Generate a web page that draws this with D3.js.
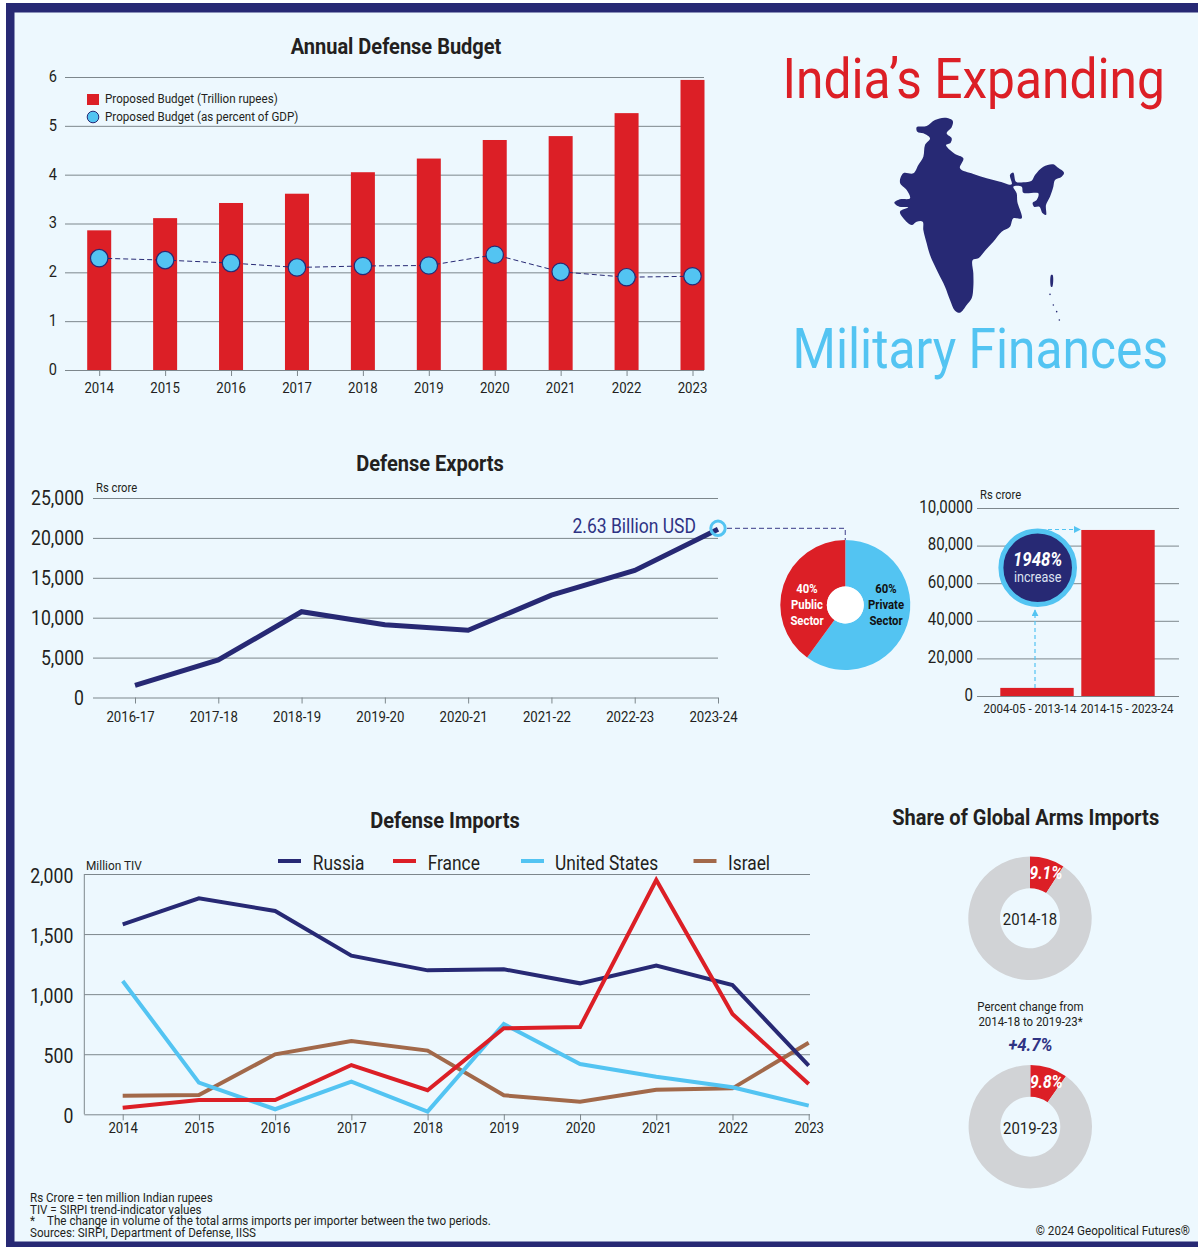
<!DOCTYPE html>
<html>
<head>
<meta charset="utf-8">
<title>India's Expanding Military Finances</title>
<script src="https://d3js.org/d3.v7.min.js"></script>
<style>
    html, body { margin: 0; padding: 0; background: #fff; }
    svg { display: block; }
    text { font-family: Roboto, "Noto Sans", sans-serif; fill: #231f20; }
</style>
</head>
<body>
<svg id="chart" width="1198" height="1247"></svg>
<script>
// Annual Defense Budget
const budgetYears = ["2014", "2015", "2016", "2017", "2018", "2019", "2020", "2021", "2022", "2023"];
const budgetTrillion = [2.86, 3.11, 3.42, 3.61, 4.05, 4.33, 4.71, 4.79, 5.26, 5.94];
const budgetGdp = [2.29, 2.25, 2.19, 2.10, 2.13, 2.14, 2.36, 2.01, 1.90, 1.92];
const budgetTicks = [0, 1, 2, 3, 4, 5, 6];

// Defense Exports
const exportYears = ["2016-17", "2017-18", "2018-19", "2019-20", "2020-21", "2021-22", "2022-23", "2023-24"];
const exportValues = [1520, 4700, 10750, 9120, 8430, 12820, 15920, 21080];
const exportTicks = [0, 5000, 10000, 15000, 20000, 25000];

// Public / private split
const sectorNames = ["Private", "Public"];
const sectorShares = [60, 40];

// Ten year export totals
const decadeLabels = ["2004-05 - 2013-14", "2014-15 - 2023-24"];
const decadeValues = [4312, 88319];
const decadeTicks = [0, 20000, 40000, 60000, 80000, 100000];
const decadeTickLabels = ["0", "20,000", "40,000", "60,000", "80,000", "10,0000"];

// Defense Imports
const importYears = ["2014", "2015", "2016", "2017", "2018", "2019", "2020", "2021", "2022", "2023"];
const russiaImports = [1581, 1797, 1692, 1320, 1198, 1207, 1090, 1237, 1076, 405];
const franceImports = [55, 119, 119, 410, 200, 716, 727, 1950, 835, 252];
const usImports = [1110, 264, 42, 272, 22, 752, 419, 313, 225, 72];
const israelImports = [155, 161, 499, 610, 530, 158, 105, 205, 216, 596];
const importTicks = [0, 500, 1000, 1500, 2000];

// Share of global arms imports
const sharePeriods = ["2014-18", "2019-23"];
const shareValues = [9.1, 9.8];

// India silhouette
const indiaOutline = [[470,292],[500,288],[525,270],[555,263],[578,272],[575,292],[560,310],[575,325],[572,338],[558,345],[570,360],[585,372],[610,385],[600,415],[640,432],[680,445],[720,455],[755,463],[750,435],[760,428],[768,455],[790,457],[815,452],[825,435],[850,410],[880,403],[892,412],[912,428],[905,440],[885,450],[880,470],[870,500],[858,525],[858,555],[848,550],[838,530],[822,530],[818,518],[830,510],[835,490],[790,488],[785,470],[760,470],[770,490],[772,515],[785,565],[760,565],[750,590],[725,605],[700,635],[675,662],[655,685],[638,690],[640,730],[640,770],[635,805],[620,825],[600,848],[585,842],[570,810],[555,770],[535,730],[510,675],[500,640],[490,600],[488,575],[470,575],[455,585],[430,565],[420,545],[445,532],[418,530],[403,518],[420,508],[450,505],[440,480],[420,458],[430,430],[460,430],[475,405],[490,380],[495,345],[510,325],[490,310],[472,305]];
const islandOutline = [[873,735],[878,735],[877,770],[873,770]];
const islandDots = [[870,793],[880,825],[890,845],[898,870]];

const navy = "#272974", red = "#dc1f26", sky = "#53c4f2", brown = "#a2694a", grey = "#d1d3d6";
const gridColor = "#7d878c", bg = "#edf8fe";
const narrow = 0.9;

const svg = d3.select("#chart");

// frame runs off the right edge of the picture
svg.append("rect").attr("x", 0).attr("y", 0).attr("width", 1198).attr("height", 1247).attr("fill", "#fff");
svg.append("rect").attr("x", 6).attr("y", 3).attr("width", 1192).attr("height", 1244).attr("fill", navy);
svg.append("rect").attr("x", 14.5).attr("y", 12.5).attr("width", 1184).attr("height", 1229).attr("fill", bg);

// Roboto squeezed sideways stands in for the condensed face
function label(x, y, str, opts = {}) {
    const t = svg.append("text")
        .attr("transform", `translate(${x},${y}) scale(${opts.sx || narrow},1)`)
        .attr("text-anchor", opts.anchor || "middle")
        .attr("dominant-baseline", opts.baseline || "central")
        .attr("font-size", opts.size || 13)
        .attr("font-weight", opts.weight || 400)
        .style("fill", opts.fill || "#231f20")
        .text(str);
    if (opts.italic) t.attr("font-style", "italic");
    return t;
}

// shift moves the tick text off where d3 put it, the originals sit a touch off the ticks
function squeezeTicks(axisG, size, sx, shiftX = 0, shiftY = 0) {
    axisG.selectAll("text").each(function () {
        const t = d3.select(this);
        const x = +t.attr("x") || 0, y = +t.attr("y") || 0;
        t.attr("x", 0).attr("y", 0)
            .attr("transform", `translate(${x + shiftX},${y + shiftY}) scale(${sx || narrow},1)`)
            .attr("font-size", size);
    });
    axisG.selectAll("text").style("font-family", "Roboto").style("fill", "#231f20");
}

function gridAxis(scale, ticks, left, right, fmt, size, gap, shiftY = 0) {
    const g = svg.append("g")
        .attr("transform", `translate(${left},0)`)
        .call(d3.axisLeft(scale).tickValues(ticks).tickSize(-(right - left)).tickPadding(gap).tickFormat(fmt));
    g.select(".domain").remove();
    g.selectAll("line").attr("stroke", gridColor).attr("stroke-width", 1);
    squeezeTicks(g, size, 0.86, 0, shiftY);
    return g;
}

function bottomAxis(scale, y, size, tick, shiftX = 0, shiftY = 0) {
    const g = svg.append("g")
        .attr("transform", `translate(0,${y})`)
        .call(d3.axisBottom(scale).tickSize(tick).tickPadding(5));
    g.select(".domain").remove();
    g.selectAll("line").attr("stroke", gridColor).attr("stroke-width", 1);
    squeezeTicks(g, size, 0.88, shiftX, shiftY);
    return g;
}

/* ---------- Annual Defense Budget ---------- */
const xBudget = d3.scalePoint().domain(budgetYears).range([99.2, 692.5]);
const yBudget = d3.scaleLinear().domain([0, 6]).range([370, 77]);
const budgetBar = 24;

label(396, 46, "Annual Defense Budget", { size: 22, weight: 700, sx: 0.91 });
gridAxis(yBudget, budgetTicks, 65, 704, d3.format("d"), 17, 8, -1);
bottomAxis(xBudget, 370, 15, 6, -0.5, 1.5);

svg.append("g").selectAll("rect")
    .data(budgetYears)
    .enter().append("rect")
    .attr("x", d => xBudget(d) - budgetBar / 2)
    .attr("y", (d, i) => yBudget(budgetTrillion[i]))
    .attr("width", budgetBar)
    .attr("height", (d, i) => yBudget(0) - yBudget(budgetTrillion[i]))
    .attr("fill", red);

svg.append("path")
    .datum(budgetGdp)
    .attr("fill", "none")
    .attr("stroke", navy)
    .attr("stroke-width", 1)
    .attr("stroke-dasharray", "5,3")
    .attr("d", d3.line().x((d, i) => xBudget(budgetYears[i])).y(d => yBudget(d)));

svg.append("g").selectAll("circle")
    .data(budgetGdp)
    .enter().append("circle")
    .attr("cx", (d, i) => xBudget(budgetYears[i]))
    .attr("cy", d => yBudget(d))
    .attr("r", 8.7)
    .attr("fill", sky)
    .attr("stroke", navy)
    .attr("stroke-width", 1.2);

svg.append("rect").attr("x", 87).attr("y", 94).attr("width", 12).attr("height", 11).attr("fill", red);
svg.append("circle").attr("cx", 93).attr("cy", 117).attr("r", 5.8).attr("fill", sky).attr("stroke", navy).attr("stroke-width", 1);
label(105, 98.5, "Proposed Budget (Trillion rupees)", { anchor: "start", size: 13.5, sx: 0.86 });
label(105, 116.5, "Proposed Budget (as percent of GDP)", { anchor: "start", size: 13.5, sx: 0.86 });

/* ---------- Headline and map ---------- */
label(782.5, 79, "India\u2019s Expanding", { anchor: "start", size: 55, fill: red, sx: 0.904 });
label(792.5, 349, "Military Finances", { anchor: "start", size: 55, fill: sky, sx: 0.904 });

const mapX = d3.scaleLinear().domain([0, 1314]).range([760, 1198]);
const mapY = d3.scaleLinear().domain([0, 1110]).range([30, 400]);
const mapLine = d3.line().x(d => mapX(d[0])).y(d => mapY(d[1])).curve(d3.curveCatmullRomClosed.alpha(0.5));

svg.append("path").attr("d", mapLine(indiaOutline)).attr("fill", navy);
svg.append("path").attr("d", mapLine(islandOutline)).attr("fill", navy);
svg.append("g").selectAll("circle")
    .data(islandDots)
    .enter().append("circle")
    .attr("cx", d => mapX(d[0]))
    .attr("cy", d => mapY(d[1]))
    .attr("r", 0.8)
    .attr("fill", navy);

/* ---------- Defense Exports ---------- */
const xExport = d3.scalePoint().domain(exportYears).range([135, 718]);
const yExport = d3.scaleLinear().domain([0, 25000]).range([697.5, 498]);

label(430, 463, "Defense Exports", { size: 22, weight: 700, sx: 0.91 });
label(96, 488, "Rs crore", { anchor: "start", size: 12.5, sx: 0.9 });
gridAxis(yExport, exportTicks, 93, 718, d3.format(","), 20.5, 9);
bottomAxis(xExport, 697.5, 15, 6, -5, 2.5);

svg.append("path")
    .datum(exportValues)
    .attr("fill", "none")
    .attr("stroke", navy)
    .attr("stroke-width", 5)
    .attr("d", d3.line().x((d, i) => xExport(exportYears[i])).y(d => yExport(d)));

const lastExport = [xExport(exportYears[exportYears.length - 1]), yExport(exportValues[exportValues.length - 1])];
svg.append("circle")
    .attr("cx", lastExport[0]).attr("cy", lastExport[1] - 1)
    .attr("r", 7.2)
    .attr("fill", "none")
    .attr("stroke", sky)
    .attr("stroke-width", 3);
label(696, 527, "2.63 Billion USD", { anchor: "end", size: 20, fill: "#2f3384", sx: 0.875 });

const pieCx = 845.3, pieCy = 605, pieR = 65;
svg.append("path")
    .attr("d", `M${lastExport[0] + 9},${lastExport[1] - 1}H${pieCx}V${pieCy - pieR}`)
    .attr("fill", "none")
    .attr("stroke", "#5d5f9f")
    .attr("stroke-width", 1.2)
    .attr("stroke-dasharray", "5,3");

/* ---------- Public / private pie ---------- */
const pie = d3.pie().sort(null);
const pieArc = d3.arc().innerRadius(18.5).outerRadius(pieR);
const pieColors = d3.scaleOrdinal().domain(sectorNames).range([sky, red]);

svg.append("g")
    .attr("transform", `translate(${pieCx},${pieCy})`)
    .selectAll("path")
    .data(pie(sectorShares))
    .enter().append("path")
    .attr("d", pieArc)
    .attr("fill", (d, i) => pieColors(sectorNames[i]));
svg.append("circle").attr("cx", pieCx).attr("cy", pieCy).attr("r", 18.5).attr("fill", "#fff");

sectorNames.forEach((name, i) => {
    const cx = i === 0 ? 886 : 807;
    const fill = i === 0 ? "#111" : "#fff";
    label(cx, 588.5, `${sectorShares[i]}%`, { size: 13.5, weight: 700, fill, sx: 0.84 });
    label(cx, 604, name, { size: 13.5, weight: 700, fill, sx: 0.84 });
    label(cx, 620, "Sector", { size: 13.5, weight: 700, fill, sx: 0.84 });
});

/* ---------- Ten year totals ---------- */
const xDecade = d3.scalePoint().domain(decadeLabels).range([1037, 1118]);
const yDecade = d3.scaleLinear().domain([0, 100000]).range([696, 508]);
const decadeBar = 73.4;

label(980, 495, "Rs crore", { anchor: "start", size: 12.5, sx: 0.9 });
gridAxis(yDecade, decadeTicks, 977, 1179, (d, i) => decadeTickLabels[i], 17.5, 4, -1.5);

svg.append("g").selectAll("rect")
    .data(decadeLabels)
    .enter().append("rect")
    .attr("x", d => xDecade(d) - decadeBar / 2)
    .attr("y", (d, i) => yDecade(decadeValues[i]))
    .attr("width", decadeBar)
    .attr("height", (d, i) => yDecade(0) - yDecade(decadeValues[i]))
    .attr("fill", red);

const decadeAxis = bottomAxis(xDecade, 696, 13.5, 0);
decadeAxis.selectAll("text").each(function (d, i) {
    d3.select(this).attr("transform", `translate(${i === 0 ? -7.5 : 8.5},7) scale(0.855,1)`);
});

svg.append("defs").append("marker")
    .attr("id", "skyArrow")
    .attr("viewBox", "0 0 8 8").attr("refX", 7).attr("refY", 4)
    .attr("markerWidth", 7).attr("markerHeight", 7).attr("orient", "auto")
    .attr("markerUnits", "userSpaceOnUse")
    .append("path").attr("d", "M0,0L8,4L0,8Z").attr("fill", sky);

svg.append("line")
    .attr("x1", 1035).attr("x2", 1035)
    .attr("y1", yDecade(decadeValues[0])).attr("y2", 610)
    .attr("stroke", sky).attr("stroke-width", 1.2).attr("stroke-dasharray", "4,3")
    .attr("marker-end", "url(#skyArrow)");
svg.append("line")
    .attr("x1", 1048).attr("x2", 1080)
    .attr("y1", 529.5).attr("y2", 529.5)
    .attr("stroke", sky).attr("stroke-width", 1.2).attr("stroke-dasharray", "4,3")
    .attr("marker-end", "url(#skyArrow)");

svg.append("circle")
    .attr("cx", 1037.7).attr("cy", 567.7).attr("r", 36.8)
    .attr("fill", navy).attr("stroke", sky).attr("stroke-width", 5);
label(1037.7, 559, "1948%", { size: 19.5, weight: 700, italic: true, fill: "#fff", sx: 0.86 });
label(1037.7, 577.5, "increase", { size: 14, fill: "#dfe4f2", sx: 0.9 });

/* ---------- Defense Imports ---------- */
const xImport = d3.scalePoint().domain(importYears).range([122.7, 808.7]);
const yImport = d3.scaleLinear().domain([0, 2000]).range([1114.3, 874]);

label(445, 820, "Defense Imports", { size: 22, weight: 700, sx: 0.91 });
label(86, 865.5, "Million TIV", { anchor: "start", size: 12.5, sx: 0.95 });
gridAxis(yImport, importTicks, 84.3, 810, d3.format(","), 20.5, 11, 2);
svg.append("line").attr("x1", 84.3).attr("x2", 84.3).attr("y1", 874).attr("y2", 1114.3)
    .attr("stroke", gridColor).attr("stroke-width", 1);
bottomAxis(xImport, 1114.3, 15, 6, 0, -2.5);

const importSeries = [
    { name: "Israel", values: israelImports, color: brown },
    { name: "United States", values: usImports, color: sky },
    { name: "Russia", values: russiaImports, color: navy },
    { name: "France", values: franceImports, color: red }
];
const importLine = d3.line().x((d, i) => xImport(importYears[i])).y(d => yImport(d));

svg.append("g").selectAll("path")
    .data(importSeries)
    .enter().append("path")
    .attr("d", d => importLine(d.values))
    .attr("fill", "none")
    .attr("stroke", d => d.color)
    .attr("stroke-width", 4);

const importLegend = [
    { name: "Russia", color: navy, x: 278, tx: 312.7 },
    { name: "France", color: red, x: 393, tx: 427.7 },
    { name: "United States", color: sky, x: 521, tx: 555 },
    { name: "Israel", color: brown, x: 693.5, tx: 728 }
];
importLegend.forEach(d => {
    svg.append("line").attr("x1", d.x).attr("x2", d.x + 23).attr("y1", 861).attr("y2", 861)
        .attr("stroke", d.color).attr("stroke-width", 4);
    label(d.tx, 863.5, d.name, { anchor: "start", size: 19.5, sx: 0.89 });
});

/* ---------- Share of Global Arms Imports ---------- */
label(1025.7, 817, "Share of Global Arms Imports", { size: 22, weight: 700, sx: 0.91 });

const shareArc = d3.arc().innerRadius(30).outerRadius(61.7);
const shareCentres = [[1030, 918.3], [1030.3, 1126.7]];
sharePeriods.forEach((period, i) => {
    const g = svg.append("g").attr("transform", `translate(${shareCentres[i][0]},${shareCentres[i][1]})`);
    g.selectAll("path")
        .data(d3.pie().sort(null)([shareValues[i], 100 - shareValues[i]]))
        .enter().append("path")
        .attr("d", shareArc)
        .attr("fill", (d, j) => (j === 0 ? red : grey));
    label(shareCentres[i][0], shareCentres[i][1] + 1, period, { size: 17, sx: 0.88 });
    label(shareCentres[i][0] + 16, shareCentres[i][1] - 45.5, `${shareValues[i]}%`, { size: 18.5, weight: 700, italic: true, fill: "#fff", sx: 0.84 });
});

label(1030.5, 1007, "Percent change from", { size: 13, sx: 0.88 });
label(1030.5, 1022, "2014-18 to 2019-23*", { size: 13, sx: 0.88 });
label(1030.5, 1044, "+4.7%", { size: 19, weight: 700, italic: true, fill: "#2f3384", sx: 0.88 });

/* ---------- Notes ---------- */
label(30, 1198, "Rs Crore = ten million Indian rupees", { anchor: "start", size: 13, sx: 0.894 });
label(30, 1209.5, "TIV = SIRPI trend-indicator values", { anchor: "start", size: 13, sx: 0.894 });
label(30, 1221, "*", { anchor: "start", size: 13, sx: 0.894 });
label(47, 1221, "The change in volume of the total arms imports per importer between the two periods.", { anchor: "start", size: 13, sx: 0.894 });
label(30, 1233, "Sources: SIRPI, Department of Defense, IISS", { anchor: "start", size: 13, sx: 0.894 });
label(1190, 1230.5, "\u00a9 2024 Geopolitical Futures\u00ae", { anchor: "end", size: 13, sx: 0.9 });
</script>
</body>
</html>
